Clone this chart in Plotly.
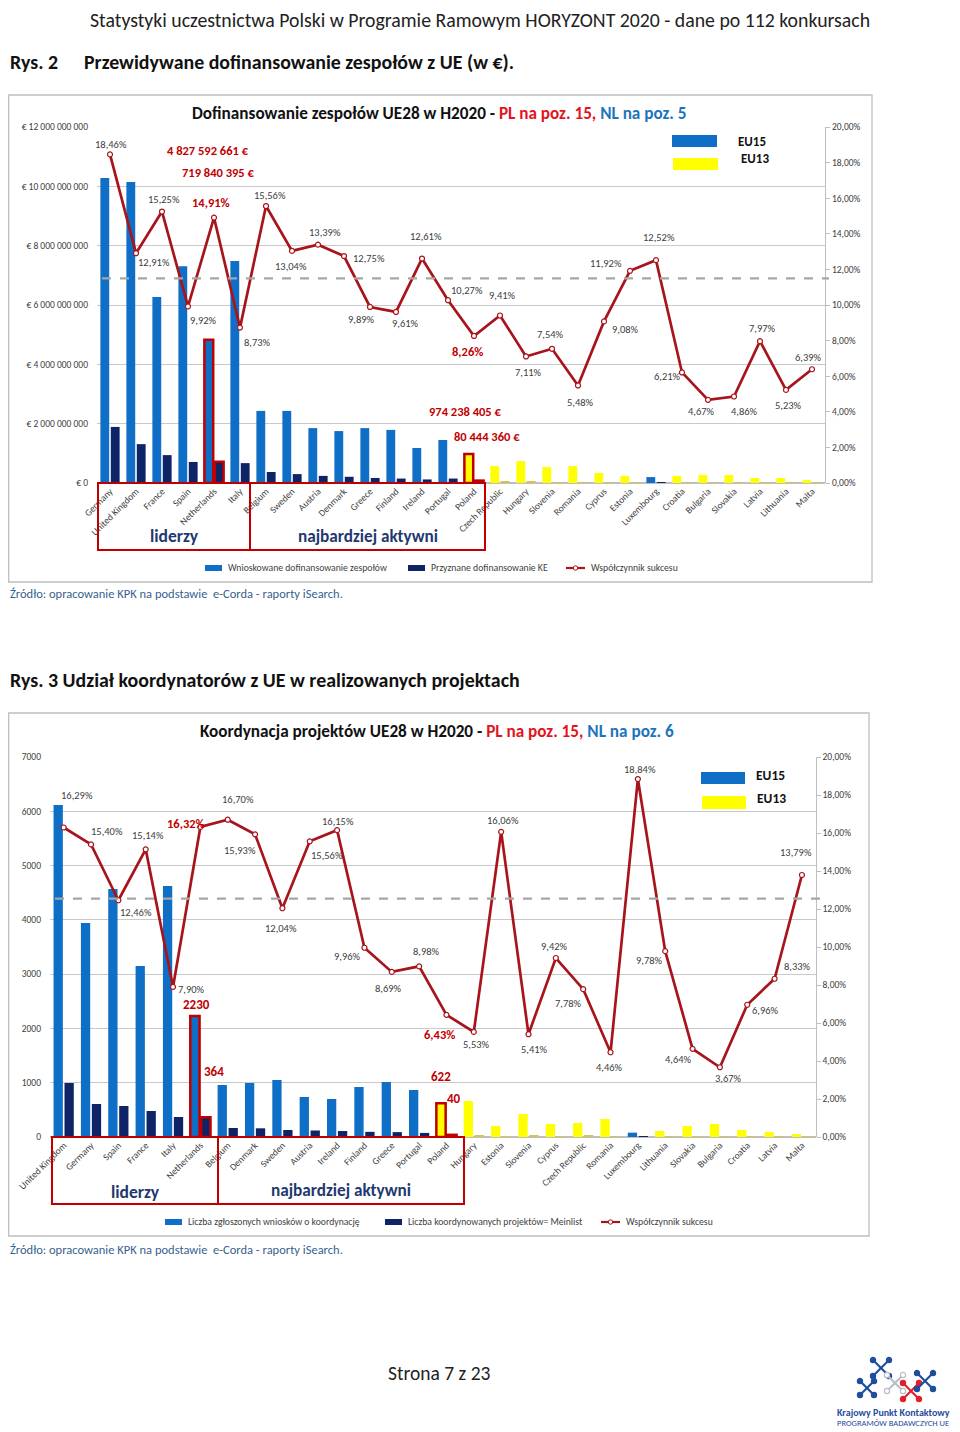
import plotly.graph_objects as go

W, H = 960, 1432          # reference page size
OFF = 8                    # browser body margin
FW, FH = W - OFF, H - OFF  # figure size so that the page fits the window
FONT = "Carlito, Lato, 'Open Sans', sans-serif"

# ---------------- Chart 1 data (Rys. 2) ----------------
c1_countries = ["Germany", "United Kingdom", "France", "Spain", "Netherlands", "Italy", "Belgium",
                "Sweden", "Austria", "Denmark", "Greece", "Finland", "Ireland", "Portugal", "Poland",
                "Czech Republic", "Hungary", "Slovenia", "Romania", "Cyprus", "Estonia", "Luxembourg",
                "Croatia", "Bulgaria", "Slovakia", "Latvia", "Lithuania", "Malta"]
c1_requested = [10.28e9, 10.15e9, 6.27e9, 7.31e9, 4827592661, 7.48e9, 2.43e9, 2.43e9, 1.85e9, 1.75e9,
                1.85e9, 1.79e9, 1.18e9, 1.45e9, 974238405, 0.57e9, 0.74e9, 0.54e9, 0.57e9, 0.34e9,
                0.24e9, 0.20e9, 0.24e9, 0.27e9, 0.27e9, 0.17e9, 0.17e9, 0.10e9]
c1_granted = [1.89e9, 1.31e9, 0.94e9, 0.71e9, 719840395, 0.67e9, 0.37e9, 0.30e9, 0.24e9, 0.21e9,
              0.17e9, 0.15e9, 0.12e9, 0.15e9, 80444360, 0.05e9, 0.04e9, 0.03e9, 0.03e9, 0.03e9,
              0.02e9, 0.02e9, 0.02e9, 0.02e9, 0.02e9, 0.01e9, 0.01e9, 0.006e9]
c1_success = [18.46, 12.91, 15.25, 9.92, 14.91, 8.73, 15.56, 13.04, 13.39, 12.75, 9.89, 9.61, 12.61,
              10.27, 8.26, 9.41, 7.11, 7.54, 5.48, 9.08, 11.92, 12.52, 6.21, 4.67, 4.86, 7.97, 5.23, 6.39]
c1_average = 11.5
c1_left_ticks = [0, 2e9, 4e9, 6e9, 8e9, 10e9, 12e9]
c1_left_ticktext = ["€ 0", "€ 2 000 000 000", "€ 4 000 000 000", "€ 6 000 000 000",
                    "€ 8 000 000 000", "€ 10 000 000 000", "€ 12 000 000 000"]

# ---------------- Chart 2 data (Rys. 3) ----------------
c2_countries = ["United Kingdom", "Germany", "Spain", "France", "Italy", "Netherlands", "Belgium",
                "Denmark", "Sweden", "Austria", "Ireland", "Finland", "Greece", "Portugal", "Poland",
                "Hungary", "Estonia", "Slovenia", "Cyprus", "Czech Republic", "Romania", "Luxembourg",
                "Lithuania", "Slovakia", "Bulgaria", "Croatia", "Latvia", "Malta"]
c2_applications = [6116, 3942, 4568, 3150, 4624, 2230, 958, 995, 1050, 737, 700, 921, 1013, 866, 622,
                   663, 203, 424, 240, 258, 332, 80, 110, 203, 240, 130, 92, 55]
c2_coordinated = [995, 608, 571, 479, 368, 364, 166, 160, 129, 120, 110, 95, 90, 75, 40,
                  35, 15, 20, 15, 20, 12, 12, 8, 10, 7, 8, 6, 3]
c2_success = [16.29, 15.40, 12.46, 15.14, 7.90, 16.32, 16.70, 15.93, 12.04, 15.56, 16.15, 9.96, 8.69,
              8.98, 6.43, 5.53, 16.06, 5.41, 9.42, 7.78, 4.46, 18.84, 9.78, 4.64, 3.67, 6.96, 8.33, 13.79]
c2_average = 12.55
c2_left_ticks = [0, 1000, 2000, 3000, 4000, 5000, 6000, 7000]

pct_ticks = list(range(0, 21, 2))
pct_ticktext = [f"{v},00%" for v in pct_ticks]

EU15 = {"Germany", "United Kingdom", "France", "Spain", "Netherlands", "Italy", "Belgium", "Sweden",
        "Austria", "Denmark", "Greece", "Finland", "Ireland", "Portugal", "Luxembourg"}
HIGHLIGHT = {"Netherlands", "Poland"}

# ---------------- styles ----------------
BLUE = "#0F6FC6"
NAVY = "#0E2466"
YELLOW = "#FFFF00"
GOLD = "#D2C25A"
RED = "#C00000"
LINE_RED = "#A8141B"
TXT = "#404040"

# label offsets (pixels) for success-rate labels
c1_lab_off = [(1, 10), (18, -9), (2, 12), (15, -14), (-3, 15), (17, -15), (4, 11), (-1, -16), (7, 12),
              (25, -2), (-9, -13), (9, -12), (4, 22), (19, 10), (-7, -16), (2, 20), (2, -16), (-2, 14),
              (2, -17), (21, -8), (-24, 7), (3, 23), (-15, -4), (-7, -12), (10, -15), (2, 13), (2, -16),
              (-4, 12)]
c2_lab_off = [(13, 32), (16, 13), (18, -12), (2, 14), (18, -3), (-14, 3), (10, 20), (-15, -16), (-1, -20),
              (17, -14), (1, 9), (-17, -9), (-3, -17), (7, 15), (-7, -20), (3, -13), (2, 11), (6, -15),
              (-1, 12), (-15, -14), (-1, -15), (2, 10), (-16, -9), (-14, -11), (9, -11), (18, -6),
              (23, 12), (-6, 22)]


def px(x):
    return (x - OFF) / FW


def py(y):
    return 1 - (y - OFF) / FH


def fmt_pct(v):
    return f"{v:.2f}%".replace(".", ",")


def fmt_num(v):
    return f"{int(v):,}".replace(",", " ")


fig = go.Figure()
annotations = []
shapes = []


def add_text(x, y, text, size=10, color=TXT, bold=False, xanchor="center", yanchor="middle", family=FONT):
    t = f"<b>{text}</b>" if bold else text
    annotations.append(dict(x=px(x), y=py(y), xref="paper", yref="paper", text=t, showarrow=False,
                            xanchor=xanchor, yanchor=yanchor,
                            font=dict(size=size, color=color, family=family)))


def add_rect(x0, y0, x1, y1, fill=None, line_color=None, width=1):
    shapes.append(dict(type="rect", xref="paper", yref="paper", x0=px(x0), x1=px(x1), y0=py(y0), y1=py(y1),
                       fillcolor=fill if fill else "rgba(0,0,0,0)",
                       line=dict(color=line_color if line_color else "rgba(0,0,0,0)", width=width)))


def add_line(x0, y0, x1, y1, color, width=1, dash="solid"):
    shapes.append(dict(type="line", xref="paper", yref="paper", x0=px(x0), x1=px(x1), y0=py(y0), y1=py(y1),
                       line=dict(color=color, width=width, dash=dash)))


def add_circle(cx, cy, r, fill, line_color, width=1):
    shapes.append(dict(type="circle", xref="paper", yref="paper", x0=px(cx - r), x1=px(cx + r),
                       y0=py(cy + r), y1=py(cy - r), fillcolor=fill, line=dict(color=line_color, width=width)))


def second_color(c):
    if c == "Poland":
        return RED
    return NAVY if c in EU15 else GOLD


def build_chart(countries, primary, secondary, success, xaxis, yaxis, yaxis_pct, names, offsets):
    c_primary = [BLUE if c in EU15 else YELLOW for c in countries]
    c_second = [second_color(c) for c in countries]
    l_color = [RED if c in HIGHLIGHT else "rgba(0,0,0,0)" for c in countries]
    l_width = [2.5 if c in HIGHLIGHT else 0 for c in countries]
    fig.add_trace(go.Bar(x=countries, y=primary, name=names[0], xaxis=xaxis, yaxis=yaxis,
                         marker=dict(color=c_primary, line=dict(color=l_color, width=l_width)),
                         showlegend=False))
    fig.add_trace(go.Bar(x=countries, y=secondary, name=names[1], xaxis=xaxis, yaxis=yaxis,
                         marker=dict(color=c_second, line=dict(color=l_color, width=l_width)),
                         showlegend=False))
    fig.add_trace(go.Scatter(x=countries, y=success, name=names[2], xaxis=xaxis, yaxis=yaxis_pct,
                             mode="lines+markers", line=dict(color=LINE_RED, width=2.7),
                             marker=dict(symbol="circle", size=5, color="white",
                                         line=dict(color=LINE_RED, width=1.2)),
                             showlegend=False))
    for c, v, (dx, dy) in zip(countries, success, offsets):
        hl = c in HIGHLIGHT
        annotations.append(dict(x=c, y=v, xref=xaxis, yref=yaxis_pct,
                                text=(f"<b>{fmt_pct(v)}</b>" if hl else fmt_pct(v)),
                                showarrow=False, xshift=dx, yshift=dy,
                                font=dict(size=12.5 if hl else 10.5, color=RED if hl else TXT, family=FONT)))


# ---------------- Chart 1 ----------------
build_chart(c1_countries, c1_requested, c1_granted, c1_success, "x", "y", "y2",
            ["Wnioskowane dofinansowanie zespołów", "Przyznane dofinansowanie KE", "Współczynnik sukcesu"],
            c1_lab_off)
# ---------------- Chart 2 ----------------
build_chart(c2_countries, c2_applications, c2_coordinated, c2_success, "x2", "y3", "y4",
            ["Liczba zgłoszonych wniosków o koordynację", "Liczba koordynowanych projektów= Meinlist",
             "Współczynnik sukcesu"],
            c2_lab_off)

# average dashed lines
shapes.append(dict(type="line", xref="paper", yref="y2", x0=px(102), x1=px(829), y0=c1_average, y1=c1_average,
                   line=dict(color="#A6A6A6", width=2.2, dash="dash"), layer="above"))
shapes.append(dict(type="line", xref="paper", yref="y4", x0=px(55), x1=px(827), y0=c2_average, y1=c2_average,
                   line=dict(color="#A6A6A6", width=2.2, dash="dash"), layer="above"))

# ---------------- page texts ----------------
add_text(480, 20, "Statystyki uczestnictwa Polski w Programie Ramowym HORYZONT 2020 - dane po 112 konkursach",
         size=19.8, color="#222222")
add_text(8, 62, "Rys. 2", size=19.9, color="#111111", bold=True, xanchor="left")
add_text(82, 62, "Przewidywane dofinansowanie zespołów z UE (w €).", size=19.9, color="#111111", bold=True,
         xanchor="left")
add_text(8, 680, "Rys. 3 Udział koordynatorów z UE w realizowanych projektach", size=19.9, color="#111111",
         bold=True, xanchor="left")
SRC = "Źródło: opracowanie KPK na podstawie  e-Corda - raporty iSearch."
add_text(8, 594, SRC, size=12.5, color="#3A5F8F", xanchor="left")
add_text(8, 1249, SRC, size=12.5, color="#3A5F8F", xanchor="left")
add_text(439, 1373, "Strona 7 z 23", size=19.5, color="#222222")

# chart frames
add_rect(8.7, 95, 872, 582, line_color="#BFBFBF", width=1.3)
add_rect(8.7, 713, 869, 1236, line_color="#BFBFBF", width=1.3)

# titles
RED_T = "#E3141C"
BLUE_T = "#1C75BC"
add_text(439, 113, "<b>Dofinansowanie zespołów UE28 w H2020 - <span style='color:%s'>PL na poz. 15,</span> "
         "<span style='color:%s'>NL na poz. 5</span></b>" % (RED_T, BLUE_T), size=17.2, color="#111111")
add_text(437, 731, "<b>Koordynacja projektów UE28 w H2020 - <span style='color:%s'>PL na poz. 15,</span> "
         "<span style='color:%s'>NL na poz. 6</span></b>" % (RED_T, BLUE_T), size=17.2, color="#111111")

# EU15 / EU13 keys
add_rect(672, 135, 717, 147, fill=BLUE)
add_rect(673, 158, 718, 170, fill=YELLOW)
add_text(736, 141, "EU15", size=13, color="#111111", bold=True, xanchor="left")
add_text(739, 158, "EU13", size=13, color="#111111", bold=True, xanchor="left")
add_rect(701, 772, 745, 784, fill=BLUE)
add_rect(702, 796, 746, 809, fill=YELLOW)
add_text(754, 775, "EU15", size=13.5, color="#111111", bold=True, xanchor="left")
add_text(755, 799, "EU13", size=13.5, color="#111111", bold=True, xanchor="left")

# red value callouts chart 1
add_text(208, 150, fmt_num(c1_requested[4]) + " €", size=12.5, color=RED, bold=True)
add_text(218, 173, fmt_num(c1_granted[4]) + " €", size=12.5, color=RED, bold=True)
add_text(465, 411, fmt_num(c1_requested[14]) + " €", size=12.5, color=RED, bold=True)
add_text(487, 436, fmt_num(c1_granted[14]) + " €", size=12.5, color=RED, bold=True)
# red value callouts chart 2
add_text(196, 1004, str(c2_applications[5]), size=13, color=RED, bold=True)
add_text(214, 1071, str(c2_coordinated[5]), size=13, color=RED, bold=True)
add_text(441, 1076, str(c2_applications[14]), size=13, color=RED, bold=True)
add_text(454, 1098, str(c2_coordinated[14]), size=13, color=RED, bold=True)

# group boxes
add_rect(98, 483, 250, 550, line_color=RED, width=2)
add_rect(250, 483, 485, 550, line_color=RED, width=2)
add_text(174, 536, "liderzy", size=17.5, color="#1F3870", bold=True)
add_text(368, 536, "najbardziej aktywni", size=17.2, color="#1F3870", bold=True)
add_rect(52, 1137, 218, 1204, line_color=RED, width=2)
add_rect(218, 1137, 464, 1204, line_color=RED, width=2)
add_text(135, 1192, "liderzy", size=17.5, color="#1F3870", bold=True)
add_text(341, 1190, "najbardziej aktywni", size=17.2, color="#1F3870", bold=True)


# legends
def legend_row(y, items):
    (bx, btxt), (nx, ntxt), (lx, ltxt) = items
    add_rect(bx, y - 3, bx + 17, y + 3, fill=BLUE)
    add_text(bx + 21, y, btxt, size=9.7, color=TXT, xanchor="left")
    add_rect(nx, y - 3, nx + 17, y + 3, fill=NAVY)
    add_text(nx + 21, y, ntxt, size=9.7, color=TXT, xanchor="left")
    add_line(lx, y, lx + 19, y, LINE_RED, width=2.2)
    add_circle(lx + 9.5, y, 2.2, "white", LINE_RED, 1)
    add_text(lx + 23, y, ltxt, size=9.7, color=TXT, xanchor="left")


legend_row(568, [(205, "Wnioskowane dofinansowanie zespołów"), (408, "Przyznane dofinansowanie KE"),
                 (566, "Współczynnik sukcesu")])
legend_row(1222, [(165, "Liczba zgłoszonych wniosków o koordynację"),
                  (385, "Liczba koordynowanych projektów= Meinlist"), (601, "Współczynnik sukcesu")])


# logo (simplified)
def logo_x(cx, cy, arm, color, fill):
    for ddx, ddy in [(-1, -1), (1, -1), (-1, 1), (1, 1)]:
        add_line(cx, cy, cx + ddx * arm, cy + ddy * arm, color, width=2.2)
    for ddx, ddy in [(-1, -1), (1, -1), (-1, 1), (1, 1)]:
        add_circle(cx + ddx * arm, cy + ddy * arm, 2.6, fill, color, 1.2)


logo_x(881, 1368, 8, "#1F4E9C", "#1F4E9C")
logo_x(867, 1388, 7, "#1F4E9C", "#1F4E9C")
logo_x(895, 1383, 8, "#B8BEC8", "white")
logo_x(911, 1391, 8, "#E0202A", "#E0202A")
logo_x(925, 1381, 8, "#1F4E9C", "#1F4E9C")
add_text(893, 1412, "Krajowy Punkt Kontaktowy", size=10, color="#1F4E9C", bold=True)
add_text(893, 1423, "PROGRAMÓW BADAWCZYCH UE", size=8.5, color="#1F4E9C")

axis_font = dict(size=9.5, color=TXT, family=FONT)
n1 = len(c1_countries)
n2 = len(c2_countries)
fig.update_layout(
    width=FW, height=FH, margin=dict(l=0, r=0, t=0, b=0, autoexpand=False),
    paper_bgcolor="white", plot_bgcolor="white",
    barmode="group", bargap=0.2, bargroupgap=0.15,
    font=dict(family=FONT, color=TXT),
    showlegend=False,
    xaxis=dict(domain=[px(97), px(825)], anchor="y", type="category", range=[-0.5, n1 - 0.5],
               tickangle=-45, tickfont=axis_font,
               showgrid=False, showline=False, ticks="", fixedrange=True, automargin=False),
    yaxis=dict(domain=[py(483), py(127)], anchor="x", range=[0, 12e9], tickvals=c1_left_ticks,
               ticktext=c1_left_ticktext, tickfont=axis_font, gridcolor="#C9C9C9", gridwidth=1,
               zeroline=True, zerolinecolor="#BFBFBF", showline=False, ticks="", ticklabelstandoff=8,
               automargin=False),
    yaxis2=dict(overlaying="y", side="right", anchor="x", range=[0, 20], tickvals=pct_ticks,
                ticktext=pct_ticktext, tickfont=axis_font, showgrid=False, zeroline=False,
                showline=True, linecolor="#BFBFBF", ticks="outside", ticklen=4, tickcolor="#BFBFBF",
                automargin=False),
    xaxis2=dict(domain=[px(50), px(815.6)], anchor="y3", type="category", range=[-0.5, n2 - 0.5],
                tickangle=-45, tickfont=axis_font,
                showgrid=False, showline=False, ticks="", fixedrange=True, automargin=False),
    yaxis3=dict(domain=[py(1137), py(757)], anchor="x2", range=[0, 7000], tickvals=c2_left_ticks,
                tickfont=axis_font, gridcolor="#C9C9C9", gridwidth=1, zeroline=True,
                zerolinecolor="#BFBFBF", showline=False, ticks="", ticklabelstandoff=8, automargin=False),
    yaxis4=dict(overlaying="y3", side="right", anchor="x2", range=[0, 20], tickvals=pct_ticks,
                ticktext=pct_ticktext, tickfont=axis_font, showgrid=False, zeroline=False,
                showline=True, linecolor="#BFBFBF", ticks="outside", ticklen=4, tickcolor="#BFBFBF",
                automargin=False),
    annotations=annotations,
    shapes=shapes,
)

fig.write_html("out.html")
